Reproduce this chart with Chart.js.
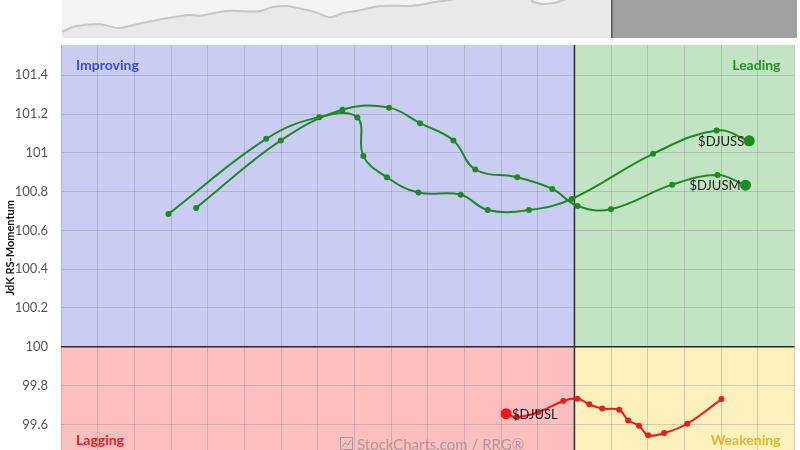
<!DOCTYPE html>
<html>
<head>
<meta charset="utf-8">
<script src="https://cdn.jsdelivr.net/npm/chart.js@4.4.1/dist/chart.umd.min.js"></script>
<style>
  html, body { margin: 0; padding: 0; background: #ffffff; overflow: hidden; }
  #wrap { position: relative; width: 800px; height: 450px; overflow: hidden; }
  #main { position: absolute; left: 0; top: 0; }
  #strip { position: absolute; left: 0; top: 0; }
</style>
</head>
<body>
<div id="wrap">
  <canvas id="main" width="800" height="456"></canvas>
  <canvas id="strip" width="800" height="38"></canvas>
</div>
<script>
// ---------- DATA ----------
const seriesNames = ['$DJUSS', '$DJUSM', '$DJUSL'];

const djussRatio    = [97.786, 98.319, 98.608, 98.816, 98.849, 98.977, 99.149, 99.380, 99.527, 99.752, 99.985, 100.429, 100.775, 100.953];
const djussMomentum = [100.685, 101.072, 101.184, 101.182, 100.983, 100.874, 100.795, 100.784, 100.705, 100.705, 100.762, 100.995, 101.115, 101.062];

const djusmRatio    = [97.937, 98.399, 98.735, 98.989, 99.158, 99.340, 99.459, 99.688, 99.879, 100.017, 100.199, 100.533, 100.780, 100.933];
const djusmMomentum = [100.716, 101.064, 101.222, 101.233, 101.153, 101.064, 100.914, 100.874, 100.814, 100.726, 100.709, 100.836, 100.885, 100.833];

const djuslRatio    = [100.802, 100.615, 100.489, 100.402, 100.352, 100.293, 100.244, 100.152, 100.081, 100.017, 99.939, 99.803, 99.685, 99.627];
const djuslMomentum = [99.730, 99.603, 99.555, 99.543, 99.593, 99.620, 99.675, 99.681, 99.703, 99.732, 99.720, 99.663, 99.637, 99.655];

const momentumTicks = [99.6, 99.8, 100, 100.2, 100.4, 100.6, 100.8, 101, 101.2, 101.4];
const quadrantNames = ['Improving', 'Leading', 'Lagging', 'Weakening'];

// benchmark strip (time index, price)
const benchT     = [0, 2, 5.2, 7.7, 11.1, 14.2, 17.2, 18.8, 22.4, 26.9, 28.5, 30.6, 33.3, 34.7, 36.5, 38.3, 40.1, 43.3, 47.8, 51.0, 52.8, 55.5, 59.6, 63.7, 64.1, 65.4, 67.1, 68.2, 70.5, 74.8, 80, 86.8, 100];
const benchPrice = [6.3, 12, 13.7, 10, 15.3, 19.7, 23, 22.3, 27, 26.7, 30.7, 32, 28, 25.3, 20.7, 25.3, 27, 32, 32.3, 36.3, 38, 41, 42, 39, 36.3, 34, 35.3, 38, 42, 44, 46, 46, 48];
const tailWindow = [74.8, 100];

// ---------- STYLE ----------
const FONT = 'Lato, "Open Sans", sans-serif';
const GREEN = '#1e8a22';
const RED = '#f01818';
const seriesColors = [GREEN, GREEN, RED];
const labelSide = ['left', 'left', 'right'];

function pts(xs, ys) { return xs.map((x, i) => ({ x: x, y: ys[i] })); }

const dataSets = [
  pts(djussRatio, djussMomentum),
  pts(djusmRatio, djusmMomentum),
  pts(djuslRatio, djuslMomentum)
].map((d, i) => ({
  label: seriesNames[i],
  data: d,
  showLine: true,
  borderColor: seriesColors[i],
  backgroundColor: seriesColors[i],
  borderWidth: 2,
  tension: 0.4,
  pointRadius: ctx => ctx.dataIndex === d.length - 1 ? 5.5 : 3,
  pointHoverRadius: ctx => ctx.dataIndex === d.length - 1 ? 5.5 : 3,
  pointBorderWidth: 0
}));

const quadrantPlugin = {
  id: 'quadrants',
  beforeDraw(chart) {
    const { ctx, chartArea: a, scales: { x, y } } = chart;
    const cx = x.getPixelForValue(100), cy = y.getPixelForValue(100);
    ctx.save();
    ctx.fillStyle = '#c9cdf4'; ctx.fillRect(a.left, a.top, cx - a.left, cy - a.top);
    ctx.fillStyle = '#c3e4c3'; ctx.fillRect(cx, a.top, a.right - cx, cy - a.top);
    ctx.fillStyle = '#fdbfbf'; ctx.fillRect(a.left, cy, cx - a.left, a.bottom - cy);
    ctx.fillStyle = '#fcf0bc'; ctx.fillRect(cx, cy, a.right - cx, a.bottom - cy);
    ctx.restore();
  },
  beforeDatasetsDraw(chart) {
    const { ctx, chartArea: a, scales: { x, y } } = chart;
    const cx = x.getPixelForValue(100), cy = y.getPixelForValue(100);
    const vb = Math.min(a.bottom, 450);
    ctx.save();
    ctx.strokeStyle = '#2a2a2a';
    ctx.lineWidth = 1.5;
    ctx.beginPath();
    ctx.moveTo(cx, a.top); ctx.lineTo(cx, a.bottom);
    ctx.moveTo(a.left, cy); ctx.lineTo(a.right, cy);
    ctx.stroke();

    ctx.font = 'bold 14px ' + FONT;
    ctx.textBaseline = 'middle';
    ctx.textAlign = 'left';
    ctx.fillStyle = '#3b4fc4'; ctx.fillText(quadrantNames[0], a.left + 15, a.top + 20);
    ctx.fillStyle = '#e8202a'; ctx.fillText(quadrantNames[2], a.left + 15, vb - 10);
    ctx.textAlign = 'right';
    ctx.fillStyle = '#2a8f2a'; ctx.fillText(quadrantNames[1], a.right - 14, a.top + 20);
    ctx.fillStyle = '#dcbb22'; ctx.fillText(quadrantNames[3], a.right - 14, vb - 10);

    // watermark
    ctx.fillStyle = 'rgba(130,130,130,0.65)';
    ctx.strokeStyle = 'rgba(130,130,130,0.65)';
    ctx.font = '15px ' + FONT;
    ctx.textAlign = 'left';
    ctx.fillText('StockCharts.com / RRG\u00AE', 357, vb - 5);
    ctx.lineWidth = 1;
    ctx.strokeRect(340.5, vb - 12.5, 12, 12);
    ctx.beginPath();
    ctx.moveTo(342, vb - 3); ctx.lineTo(345, vb - 7); ctx.lineTo(348, vb - 5); ctx.lineTo(351, vb - 10);
    ctx.stroke();
    ctx.restore();
  },
  afterDatasetsDraw(chart) {
    const { ctx } = chart;
    ctx.save();
    ctx.font = '13px ' + FONT;
    ctx.fillStyle = '#1a1a1a';
    ctx.textBaseline = 'middle';
    chart.data.datasets.forEach((ds, i) => {
      const meta = chart.getDatasetMeta(i);
      const p = meta.data[meta.data.length - 1];
      if (labelSide[i] === 'left') {
        ctx.textAlign = 'right';
        ctx.fillText(ds.label, p.x - 5, p.y + 1);
      } else {
        ctx.textAlign = 'left';
        ctx.fillText(ds.label, p.x + 6, p.y + 1);
      }
    });
    ctx.restore();
  }
};

new Chart(document.getElementById('main'), {
  type: 'scatter',
  data: { datasets: dataSets },
  options: {
    responsive: false,
    animation: false,
    layout: { padding: { top: 45, right: 5, bottom: 0, left: 0 } },
    plugins: { legend: { display: false }, tooltip: { enabled: false } },
    scales: {
      x: {
        type: 'linear',
        min: 97.2, max: 101.2,
        afterFit(scale) { scale.height = 0; scale.paddingLeft = 0; scale.paddingRight = 0; },
        ticks: { stepSize: 0.2, display: false },
        grid: { color: 'rgba(110,110,120,0.28)', lineWidth: 1, drawTicks: false },
        border: { display: false }
      },
      y: {
        type: 'linear',
        min: 99.465, max: 101.556,
        afterFit(scale) { scale.width = 61; scale.paddingTop = 0; scale.paddingBottom = 0; },
        afterBuildTicks(scale) {
          scale.ticks = momentumTicks.filter(v => v >= scale.min && v <= scale.max).map(v => ({ value: v }));
        },
        ticks: {
          includeBounds: false,
          stepSize: 0.2,
          padding: 13,
          color: '#555555',
          font: { family: FONT, size: 13 },
          callback: v => String(Math.round(v * 10) / 10)
        },
        grid: { color: 'rgba(110,110,120,0.28)', lineWidth: 1, drawTicks: false },
        border: { display: false },
        title: {
          display: true,
          text: 'JdK RS-Momentum',
          color: '#111111',
          font: { family: FONT, size: 11, weight: 'bold' },
          padding: { top: 4, bottom: 0 }
        }
      }
    }
  },
  plugins: [quadrantPlugin]
});

// ---------- top benchmark strip ----------
const stripPlugin = {
  id: 'stripBg',
  beforeDraw(chart) {
    const { ctx, chartArea: a } = chart;
    ctx.save();
    ctx.fillStyle = '#f3f3f3';
    ctx.fillRect(a.left, a.top, a.right - a.left, a.bottom - a.top);
    ctx.restore();
  },
  afterDatasetsDraw(chart) {
    const { ctx, chartArea: a, scales: { x } } = chart;
    const x0 = x.getPixelForValue(tailWindow[0]);
    const x1 = x.getPixelForValue(tailWindow[1]);
    ctx.save();
    ctx.fillStyle = '#a0a0a0';
    ctx.fillRect(x0, a.top, x1 - x0, a.bottom - a.top);
    ctx.strokeStyle = '#555555';
    ctx.lineWidth = 1.5;
    ctx.beginPath();
    ctx.moveTo(x0, a.top); ctx.lineTo(x0, a.bottom);
    ctx.stroke();
    ctx.restore();
  }
};

new Chart(document.getElementById('strip'), {
  type: 'line',
  data: {
    datasets: [{
      data: pts(benchT, benchPrice),
      borderColor: '#c6c6c6',
      backgroundColor: '#e9e9e9',
      borderWidth: 2,
      fill: 'start',
      tension: 0.3,
      pointRadius: 0
    }]
  },
  options: {
    responsive: false,
    animation: false,
    layout: { padding: { top: 0, right: 3, bottom: 0, left: 62 } },
    plugins: { legend: { display: false }, tooltip: { enabled: false } },
    scales: {
      x: { type: 'linear', min: 0, max: 100, display: false },
      y: { type: 'linear', min: 0, max: 38, display: false }
    }
  },
  plugins: [stripPlugin]
});
</script>
</body>
</html>
